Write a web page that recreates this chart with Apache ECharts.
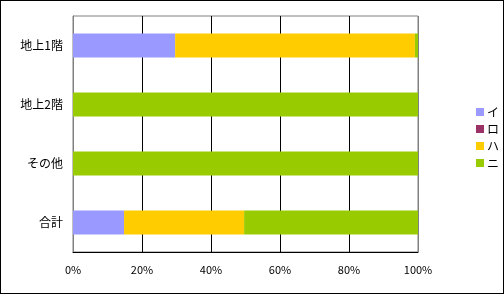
<!DOCTYPE html>
<html><head><meta charset="utf-8">
<script src="https://cdn.jsdelivr.net/npm/echarts@6/dist/echarts.min.js"></script>
<style>html,body{margin:0;padding:0;background:#fff}#c{width:504px;height:294px;box-sizing:border-box;border:1px solid #000}</style>
</head><body><div id="c"></div>
<script>
const categories = ['地上1階', '地上2階', 'その他', '合計'];
const seriesNames = ['イ', 'ロ', 'ハ', 'ニ'];
const valI  = [29.6, 0, 0, 14.8];
const valRo = [0, 0, 0, 0];
const valHa = [69.5, 0, 0, 34.8];
const valNi = [0.9, 100, 100, 50.4];
const xTicks = [0, 20, 40, 60, 80, 100];
const colors = ['#9999FF', '#993366', '#FFCC00', '#99CC00'];
const font = '"Noto Sans CJK JP", sans-serif';

const chart = echarts.init(document.getElementById('c'), null, {renderer: 'canvas'});
const vals = [valI, valRo, valHa, valNi];
chart.setOption({
  animation: false,
  grid: {left: 72, right: 85, top: 15, bottom: 41, show: true, borderColor: '#808080', borderWidth: 1, containLabel: false},
  xAxis: {
    type: 'value', min: xTicks[0], max: xTicks[xTicks.length - 1], interval: 20,
    axisLine: {show: true, onZero: false, lineStyle: {color: '#000', width: 1}},
    axisTick: {show: false},
    splitLine: {show: true, lineStyle: {color: ['#808080', '#000', '#000', '#000', '#000', '#808080'], width: 1}},
    axisLabel: {formatter: '{value}%', color: '#000', fontSize: 11, fontFamily: font, margin: 12}
  },
  yAxis: {
    type: 'category', data: categories, inverse: true,
    axisLine: {show: true, lineStyle: {color: '#808080'}},
    axisTick: {show: false},
    axisLabel: {color: '#000', fontSize: 12, fontFamily: font, margin: 10}
  },
  legend: {
    orient: 'vertical', left: 470, top: 100, itemWidth: 8, itemHeight: 8, itemGap: 5,
    icon: 'rect', data: seriesNames,
    textStyle: {fontSize: 12, fontFamily: font, color: '#000', padding: [0, 0, 0, -2]}
  },
  series: seriesNames.map((n, i) => ({
    name: n, type: 'bar', stack: 'total', data: vals[i], barWidth: 24,
    itemStyle: {color: colors[i]}
  }))
});
</script></body></html>
